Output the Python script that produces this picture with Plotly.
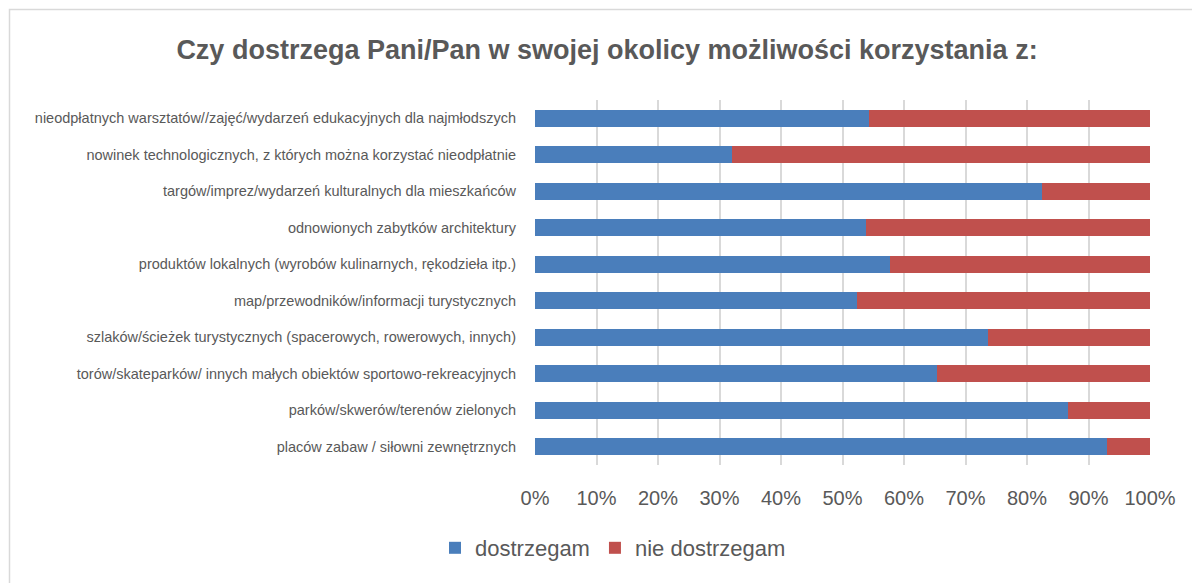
import plotly.graph_objects as go

categories = [
    "nieodpłatnych warsztatów//zajęć/wydarzeń edukacyjnych dla najmłodszych",
    "nowinek technologicznych, z których można korzystać nieodpłatnie",
    "targów/imprez/wydarzeń kulturalnych dla mieszkańców",
    "odnowionych zabytków architektury",
    "produktów lokalnych (wyrobów kulinarnych, rękodzieła itp.)",
    "map/przewodników/informacji turystycznych",
    "szlaków/ścieżek turystycznych (spacerowych, rowerowych, innych)",
    "torów/skateparków/ innych małych obiektów sportowo-rekreacyjnych",
    "parków/skwerów/terenów zielonych",
    "placów zabaw / siłowni zewnętrznych",
]
dostrzegam = [54.3, 32.0, 82.4, 53.8, 57.8, 52.4, 73.7, 65.4, 86.7, 93.0]
nie_dostrzegam = [round(100 - v, 1) for v in dostrzegam]
tick_vals = [0, 10, 20, 30, 40, 50, 60, 70, 80, 90, 100]
tick_text = [f"{v}%" for v in tick_vals]

# page body adds an 8px offset; compensate
OFF = 8
W, H = 1200, 583
L, R, T, B = 535 - OFF, 50 + OFF, 100 - OFF, 118 + OFF
pw, ph = W - L - R, H - T - B


def px_x(x):
    return (x - OFF - L) / pw


def px_y(y):
    return (T + ph - (y - OFF)) / ph


fig = go.Figure()
fig.add_trace(go.Bar(y=categories, x=dostrzegam, orientation="h", name="dostrzegam",
                     marker=dict(color="#4a7ebb", line=dict(width=0)), width=0.47))
fig.add_trace(go.Bar(y=categories, x=nie_dostrzegam, orientation="h", name="nie dostrzegam",
                     marker=dict(color="#c0504d", line=dict(width=0)), width=0.47))

fig.update_layout(
    width=W, height=H, barmode="stack",
    margin=dict(l=L, r=R, t=T, b=B),
    paper_bgcolor="white", plot_bgcolor="white",
    font=dict(family="Liberation Sans, Arial, sans-serif", color="#595959"),
    title=dict(text="<b>Czy dostrzega Pani/Pan w swojej okolicy możliwości korzystania z:</b>",
               x=(607 - OFF) / W, xanchor="center", y=1 - (50 - OFF) / H, yanchor="middle",
               font=dict(size=27, color="#595959")),
    xaxis=dict(range=[0, 100], tickvals=tick_vals, ticktext=tick_text,
               showgrid=True, gridcolor="#d9d9d9", gridwidth=2, zeroline=False,
               tickfont=dict(size=20, color="#595959"), ticks="", ticklabelstandoff=19,
               showline=False, fixedrange=True),
    yaxis=dict(autorange="reversed", tickfont=dict(size=14.5, color="#595959"),
               ticks="", ticklabelstandoff=18, showgrid=False, showline=False),
    legend=dict(orientation="h", x=px_x(613), xanchor="center",
                y=px_y(548), yanchor="middle",
                font=dict(size=22, color="#595959"), itemwidth=30,
                traceorder="normal"),
    bargap=0.53,
)

fig.add_shape(type="rect", xref="paper", yref="paper",
              x0=px_x(9.5), x1=px_x(1196),
              y0=px_y(600), y1=px_y(9.5),
              line=dict(color="#d9d9d9", width=1.5), fillcolor="rgba(0,0,0,0)", layer="below")

fig.write_html("out.html")
